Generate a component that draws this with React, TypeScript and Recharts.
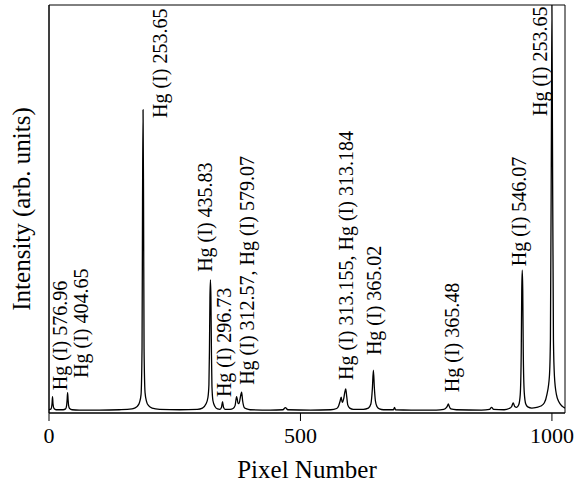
import React from 'react';
import {
  ComposedChart,
  Line,
  Scatter,
  XAxis,
  YAxis,
  ReferenceArea,
} from 'recharts';

// spectrum: [pixel, intensity (arb.)]
const spectrum: [number, number][] = [
  [0, 8], [4, 10], [6, 22], [7, 40], [8, 22], [10, 11], [14, 8],
  [28, 8], [33, 10], [35, 18], [36, 32], [37, 50], [38, 32], [39, 18], [41, 11], [46, 8],
  [60, 7], [100, 7], [140, 8], [165, 10], [170, 12], [176, 17], [180, 26], [183, 45],
  [185, 160], [186, 520], [187, 743], [188, 520], [189, 160], [191, 50], [194, 28],
  [198, 18], [205, 12], [220, 9], [260, 8], [295, 9], [305, 12], [312, 22], [316, 38],
  [318, 70], [319, 150], [320, 280], [321, 326], [322, 280], [323, 150], [324, 65],
  [326, 30], [330, 16], [335, 10], [340, 9], [343, 14], [345, 28], [347, 14], [350, 9],
  [360, 9], [366, 11], [370, 18], [373, 40], [376, 24], [378, 23], [380, 35], [383, 51],
  [385, 30], [388, 14], [393, 10], [400, 8], [440, 7], [465, 8], [470, 13], [475, 8],
  [520, 7], [560, 8], [572, 11], [576, 18], [579, 30], [581, 39], [583, 26], [586, 35],
  [588, 50], [590, 59], [592, 40], [594, 20], [598, 12], [605, 9], [625, 9], [635, 12],
  [640, 22], [643, 60], [645, 105], [647, 60], [649, 30], [652, 16], [657, 10], [665, 8],
  [685, 8], [687, 14], [689, 8], [720, 7], [770, 7], [785, 9], [790, 13], [792, 17],
  [794, 22], [796, 16], [799, 10], [810, 8], [860, 7], [876, 9], [880, 14], [884, 9],
  [905, 8], [915, 11], [920, 16], [923, 25], [926, 16], [930, 14], [934, 20], [937, 45],
  [939, 150], [940, 300], [941, 350], [942, 300], [943, 150], [945, 50], [948, 22],
  [952, 15], [960, 12], [970, 14], [978, 17], [985, 25], [990, 45], [995, 90],
  [997, 180], [999, 700], [1000, 1000], [1001, 700], [1003, 180], [1005, 90],
  [1009, 45], [1014, 27], [1020, 17], [1026, 12],
];

// line labels and where their text starts (pixel, intensity)
const lineNames = [
  'Hg (I) 576.96',
  'Hg (I) 404.65',
  'Hg (I) 253.65',
  'Hg (I) 435.83',
  'Hg (I) 296.73',
  'Hg (I) 312.57, Hg (I) 579.07',
  'Hg (I) 313.155, Hg (I) 313.184',
  'Hg (I) 365.02',
  'Hg (I) 365.48',
  'Hg (I) 546.07',
  'Hg (I) 253.65',
];
const labelPixel = [22, 64, 221, 310, 348, 394, 590, 646, 801, 934, 976];
const labelIntensity = [56, 86, 723, 346, 39, 69, 81, 142, 51, 360, 728];

const xTicks = [0, 500, 1000];
const xDomain: [number, number] = [0, 1026];
const yDomain: [number, number] = [0, 1000];

const FONT = '"Liberation Serif", "Times New Roman", serif';

const data = spectrum.map(([x, v]) => ({ x, v }));
const labels = lineNames.map((text, i) => ({ x: labelPixel[i], y: labelIntensity[i], text }));

const LineLabel = (props: any) => {
  const { cx, cy, payload } = props;
  return (
    <text
      x={cx}
      y={cy}
      transform={`rotate(-90 ${cx} ${cy})`}
      textAnchor="start"
      dominantBaseline="central"
      fontFamily={FONT}
      fontSize={20}
      fill="#000"
    >
      {payload.text}
    </text>
  );
};

export default function App() {
  return (
    <div style={{ position: 'absolute', left: 0, top: 0, background: '#fff' }}>
      <ComposedChart width={575} height={482} margin={{ top: 5, right: 10, bottom: 0, left: 0 }}>
        {/* box around the plot */}
        <ReferenceArea
          x1={xDomain[0]}
          x2={xDomain[1]}
          y1={yDomain[0]}
          y2={yDomain[1]}
          fill="none"
          stroke="#000"
          strokeWidth={1}
          ifOverflow="visible"
        />
        <XAxis
          dataKey="x"
          type="number"
          domain={xDomain}
          ticks={xTicks}
          allowDataOverflow
          height={69}
          tickSize={8}
          tickMargin={6}
          stroke="#000"
          tick={{ fill: '#000', fontSize: 22, fontFamily: FONT }}
          label={{
            value: 'Pixel Number',
            position: 'insideBottom',
            offset: 4,
            fill: '#000',
            fontSize: 25,
            fontFamily: FONT,
          }}
        />
        <YAxis
          type="number"
          domain={yDomain}
          allowDataOverflow
          width={49}
          tick={false}
          tickLine={false}
          stroke="#000"
          label={{
            value: 'Intensity (arb. units)',
            angle: -90,
            position: 'center',
            dx: -3,
            fill: '#000',
            fontSize: 25,
            fontFamily: FONT,
          }}
        />
        <Line
          data={data}
          dataKey="v"
          type="monotone"
          stroke="#000"
          strokeWidth={1.3}
          dot={false}
          isAnimationActive={false}
        />
        <Scatter
          data={labels}
          dataKey="y"
          shape={LineLabel}
          isAnimationActive={false}
        />
      </ComposedChart>
    </div>
  );
}
